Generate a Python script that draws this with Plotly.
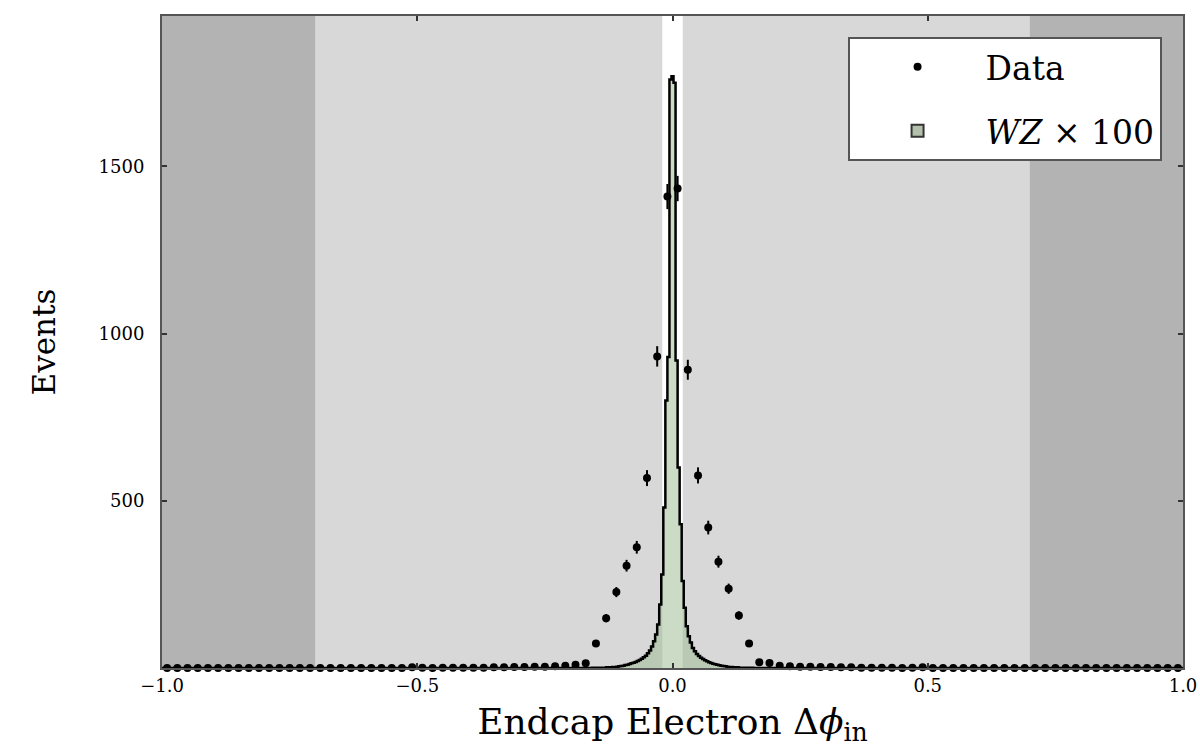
import numpy as np
import plotly.graph_objects as go

# ---------------- data ----------------
# Data: 100 bins of width 0.02 between -1 and 1 (bin centres)
data_centers = [round(-0.99 + 0.02 * i, 2) for i in range(100)]
data_counts = (
    [0] * 24 +                                   # -0.99 .. -0.53
    [2, 1, 0, 1, 1, 1, 1, 1, 2, 2, 3, 3, 4, 4, 5, 7, 10, 14,
     73, 149, 227, 306, 361, 568, 932, 1410] +   # -0.51 .. -0.01
    [1434, 892, 576, 420, 318, 237, 157, 73, 17, 15, 7, 5, 4, 4,
     3, 3, 2, 2, 1, 1, 1, 1, 0, 1, 2] +          # 0.01 .. 0.49
    [0] * 25                                     # 0.51 .. 0.99
)

# WZ x 100: fine histogram, bin width 0.004, centres -0.2 .. 0.2
wz_centers_core = [round(-0.2 + 0.004 * i, 3) for i in range(101)]
wz_neg = [1760, 930, 800, 480, 280, 190, 130, 100, 80, 64, 52, 44, 37, 32, 28,
          24, 21, 18, 16, 14, 12, 10, 9, 7, 6, 5, 4, 3, 3, 2, 2, 2, 1, 1, 1,
          1, 1, 1, 1, 0, 0, 0, 0, 0, 0, 0, 0, 0, 0, 0]   # -0.004 .. -0.200
wz_zero = [1770]
wz_pos = [1750, 920, 600, 430, 260, 180, 125, 95, 76, 60, 50, 42, 36, 31, 27,
          23, 20, 17, 15, 13, 11, 10, 8, 7, 6, 5, 4, 3, 3, 2, 2, 2, 1, 1, 1,
          1, 1, 1, 1, 0, 0, 0, 0, 0, 0, 0, 0, 0, 0, 0]   # 0.004 .. 0.200
wz_values_core = wz_neg[::-1] + wz_zero + wz_pos

# full histogram range (-1..1), empty outside the core
wz_centers = [round(-1.0 + 0.004 * i, 3) for i in range(501)]
wz_values = [0] * 501
for c, v in zip(wz_centers_core, wz_values_core):
    wz_values[int(round((c + 1.0) / 0.004))] = v

# selection cut regions
outer_cut = 0.7
inner_cut = 0.02

x_ticks = [-1.0, -0.5, 0.0, 0.5, 1.0]
x_tick_labels = ["\u22121.0", "\u22120.5", "0.0", "0.5", "1.0"]
y_ticks = [500, 1000, 1500]
y_tick_labels = ["500", "1000", "1500"]

FONT = "DejaVu Serif"
WZ_FILL = "rgba(160,190,150,0.55)"
WZ_NAME = "<i>WZ</i> \u00d7 100"

fig = go.Figure()

fig.add_trace(go.Scatter(
    x=wz_centers, y=wz_values, mode="lines", line_shape="hvh",
    line=dict(color="black", width=2.5),
    fill="tozeroy", fillcolor=WZ_FILL,
    name=WZ_NAME, showlegend=False,
))

# legend patch for the WZ histogram (no data of its own)
fig.add_trace(go.Bar(
    x=[None], y=[None], name=WZ_NAME,
    marker=dict(color="rgb(178,192,172)", line=dict(color="#333333", width=2)),
    legendgroup="wz", legendrank=2,
))

fig.add_trace(go.Scatter(
    x=data_centers, y=data_counts, mode="markers",
    marker=dict(color="black", size=8),
    error_y=dict(type="data", array=np.sqrt(np.array(data_counts, dtype=float)),
                 color="black", thickness=2, width=0),
    cliponaxis=False,
    name="Data", legendgroup="data", legendrank=1,
))

# background bands
shapes = [
    dict(type="rect", xref="x", yref="paper", x0=-1.0, x1=-outer_cut, y0=0, y1=1,
         fillcolor="#b3b3b3", line_width=0, layer="below"),
    dict(type="rect", xref="x", yref="paper", x0=outer_cut, x1=1.0, y0=0, y1=1,
         fillcolor="#b3b3b3", line_width=0, layer="below"),
    dict(type="rect", xref="x", yref="paper", x0=-inner_cut, x1=inner_cut, y0=0, y1=1,
         fillcolor="white", line_width=0, layer="below"),
]

fig.update_layout(
    width=1200, height=752,
    margin=dict(l=162, r=17, t=16, b=84),
    paper_bgcolor="white", plot_bgcolor="#d8d8d8",
    font=dict(family=FONT, color="black"),
    shapes=shapes,
    showlegend=True,
    barmode="overlay",
    legend=dict(
        x=0.979, y=0.968, xanchor="right", yanchor="top",
        bgcolor="white", bordercolor="#555555", borderwidth=2,
        font=dict(family=FONT, size=33, color="black"),
        traceorder="grouped", tracegroupgap=18, itemwidth=126,
    ),
    xaxis=dict(
        range=[-1.0, 1.0], tickvals=x_ticks, ticktext=x_tick_labels,
        showgrid=False, zeroline=False, automargin=False,
        showline=True, linecolor="#555555", linewidth=2, mirror="ticks",
        ticks="inside", ticklen=5, tickwidth=2, tickcolor="#333333",
        tickfont=dict(family=FONT, size=18),
        title=dict(text="Endcap Electron \u0394<i>\u03d5</i><sub>in</sub>",
                   font=dict(family=FONT, size=36), standoff=14),
    ),
    yaxis=dict(
        range=[0, 1950], tickvals=y_ticks, ticktext=y_tick_labels,
        showgrid=False, zeroline=False, automargin=False,
        showline=True, linecolor="#555555", linewidth=2, mirror="ticks",
        ticks="inside", ticklen=5, tickwidth=2, tickcolor="#333333",
        tickfont=dict(family=FONT, size=18),
        ticklabelstandoff=12,
        title=dict(text="Events", font=dict(family=FONT, size=31), standoff=34),
    ),
)

fig.write_html("out.html")
